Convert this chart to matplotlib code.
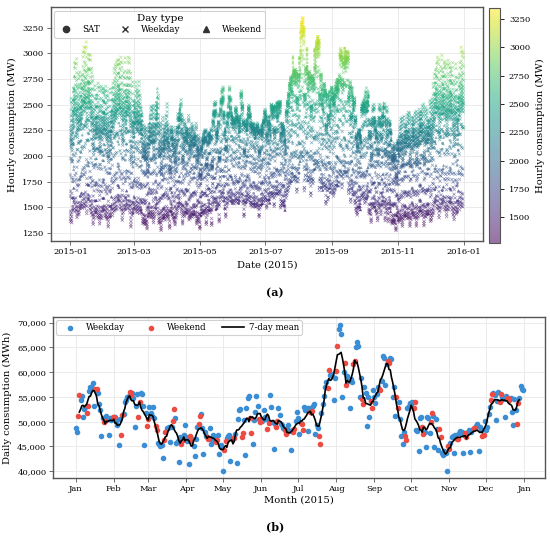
import numpy as np
import pandas as pd
import matplotlib
matplotlib.use('Agg')
import matplotlib.pyplot as plt
import matplotlib.dates as mdates
from matplotlib.lines import Line2D
from matplotlib.ticker import FuncFormatter, MultipleLocator

plt.rcParams['font.family'] = 'DejaVu Serif'

# daily consumption (thousand MWh), one list per month
jan = [48.8, 48.0, 51.1, 55.3, 54.3, 55.1, 51.0, 52.6, 53.0, 51.8, 53.2, 56.2, 57.0, 56.8, 57.8, 53.2,
       56.6, 56.5, 55.7, 53.6, 52.3, 47.1, 50.8, 49.9, 50.1, 51.2, 50.6, 47.3, 50.7, 50.4, 50.9]
feb = [50.9, 51.0, 50.2, 49.4, 45.2, 50.6, 47.4, 51.4, 51.5, 53.9, 54.4, 54.9, 55.2, 56.0, 55.4, 55.7,
       54.8, 49.0, 53.2, 55.6, 51.0, 53.9, 55.7, 55.5, 53.1, 45.2, 51.7, 49.1]
mar = [50.5, 52.9, 51.7, 51.2, 53.0, 50.7, 49.2, 48.3, 45.7, 45.5, 45.0, 45.3, 42.7, 46.3, 47.9, 48.8,
       48.7, 49.0, 45.9, 48.9, 50.1, 52.5, 50.7, 45.7, 46.1, 41.9, 47.0, 45.5, 46.2, 47.3, 49.3]
apr = [47.0, 46.0, 41.5, 47.2, 46.1, 46.6, 45.0, 43.1, 46.5, 49.0, 49.5, 51.2, 51.5, 48.7, 43.5, 47.9,
       47.2, 47.0, 46.6, 48.7, 45.5, 46.3, 47.3, 46.8, 45.9, 46.2, 47.3, 43.5, 45.2, 44.6]
may = [40.1, 44.3, 46.0, 46.7, 47.2, 47.3, 42.1, 46.5, 46.8, 46.8, 47.5, 41.7, 50.5, 52.3, 52.5, 47.0,
       47.7, 50.3, 43.3, 52.8, 54.7, 55.2, 50.7, 47.7, 45.5, 50.3, 52.0, 55.2, 53.2, 50.5, 49.9]
jun = [50.3, 50.1, 52.4, 51.0, 50.5, 48.6, 49.8, 55.4, 53.0, 50.0, 44.5, 49.5, 49.0, 50.2, 52.7, 51.3,
       49.5, 49.3, 48.7, 48.3, 47.5, 48.6, 49.3, 48.2, 44.3, 48.3, 48.0, 48.6, 50.2, 51.9]
jul = [50.8, 47.5, 49.8, 49.5, 48.3, 53.0, 52.3, 52.7, 48.2, 52.7, 52.0, 52.2, 53.2, 53.6, 47.6, 49.4,
       48.8, 47.1, 45.4, 51.8, 53.6, 55.1, 57.0, 58.1, 56.9, 60.5, 59.5, 59.7, 59.3, 54.3, 58.8]
aug = [60.3, 65.2, 68.7, 69.6, 67.7, 54.9, 60.0, 61.9, 57.5, 59.3, 58.3, 52.7, 58.6, 58.0, 61.7, 62.2,
       65.0, 66.0, 65.2, 55.0, 58.8, 54.5, 53.5, 57.0, 55.7, 49.2, 55.0, 51.0, 54.1, 52.7, 56.3]
sep = [55.0, 53.8, 55.5, 57.0, 56.5, 56.3, 58.3, 63.3, 62.8, 57.5, 61.7, 62.3, 61.8, 62.8, 62.7, 55.0,
       57.0, 51.1, 55.0, 52.7, 54.0, 50.5, 47.2, 45.5, 48.0, 47.2, 46.3, 52.7, 53.2, 53.7]
oct_ = [53.2, 53.9, 52.7, 53.9, 48.3, 48.1, 44.0, 50.7, 51.0, 49.0, 47.5, 48.0, 44.8, 51.0, 50.8, 47.7,
        50.0, 51.8, 51.1, 44.8, 50.5, 48.5, 44.3, 48.5, 47.0, 43.7, 43.3, 44.0, 43.6, 40.1, 45.0]
nov = [44.5, 45.7, 47.0, 47.2, 43.7, 47.4, 46.5, 46.6, 47.7, 48.1, 48.0, 43.7, 47.3, 47.7, 47.0, 48.0,
       48.3, 43.8, 47.9, 48.6, 48.7, 48.8, 49.2, 49.5, 44.0, 48.9, 48.5, 47.2, 47.3, 50.1]
dec = [48.3, 49.0, 51.5, 53.0, 54.3, 55.5, 55.7, 55.3, 50.3, 54.2, 56.0, 54.0, 55.5, 55.0, 54.6, 51.0,
       55.2, 54.7, 54.7, 54.3, 54.8, 51.9, 49.3, 54.6, 52.4, 49.6, 53.8, 54.8, 57.3, 56.7, 56.4]

# typical hourly shape of a day (relative to the daily mean)
wd_winter = [0.75, 0.58, 0.46, 0.40, 0.38, 0.43, 0.62, 0.88, 1.02, 1.10, 1.14, 1.12,
             1.07, 1.03, 0.99, 0.97, 1.05, 1.22, 1.36, 1.33, 1.27, 1.18, 1.03, 0.88]
wd_summer = [0.80, 0.68, 0.59, 0.54, 0.52, 0.54, 0.66, 0.84, 0.98, 1.08, 1.12, 1.14,
             1.15, 1.16, 1.16, 1.15, 1.13, 1.16, 1.12, 1.10, 1.14, 1.09, 1.01, 0.90]
we_winter = [0.80, 0.64, 0.52, 0.46, 0.43, 0.44, 0.52, 0.66, 0.84, 1.00, 1.10, 1.15,
             1.16, 1.12, 1.06, 1.03, 1.08, 1.24, 1.33, 1.30, 1.24, 1.16, 1.04, 0.92]
we_summer = [0.84, 0.73, 0.64, 0.58, 0.55, 0.55, 0.60, 0.72, 0.88, 1.02, 1.12, 1.18,
             1.21, 1.22, 1.21, 1.19, 1.16, 1.14, 1.11, 1.10, 1.12, 1.08, 1.00, 0.91]
winter_weight = [1.0, 0.95, 0.75, 0.5, 0.3, 0.1, 0.0, 0.0, 0.15, 0.45, 0.7, 0.95]
base_load = 900  # MW

daily = np.array(jan + feb + mar + apr + may + jun + jul + aug + sep + oct_ + nov + dec) * 1000
days = pd.date_range('2015-01-01', '2015-12-31', freq='D')
weekend = days.dayofweek >= 5
mean7 = pd.Series(daily).rolling(7, center=True).mean()


def norm_shape(a):
    a = np.array(a)
    return a / a.mean()


w = np.array(winter_weight)[days.month - 1][:, None]
shape_wd = w * norm_shape(wd_winter) + (1 - w) * norm_shape(wd_summer)
shape_we = w * norm_shape(we_winter) + (1 - w) * norm_shape(we_summer)
shape = np.where(weekend[:, None], shape_we, shape_wd)
hourly = (base_load + (daily[:, None] / 24 - base_load) * shape).ravel()
hours = pd.date_range('2015-01-01', periods=len(hourly), freq='h')
dow = np.repeat(days.dayofweek, 24)

fig = plt.figure(figsize=(5.5, 5.38), dpi=100)
ax1 = fig.add_axes([0.0922, 0.552, 0.7865, 0.4344])
cax = fig.add_axes([0.889, 0.549, 0.020, 0.4357])
ax2 = fig.add_axes([0.0969, 0.1115, 0.8946, 0.2987])

spine_col = '#555555'
for ax in (ax1, ax2):
    ax.set_axisbelow(True)
    ax.grid(True, color='#e8e8e8', lw=0.6)
    for s in ax.spines.values():
        s.set_color(spine_col)
        s.set_linewidth(1.0)
    ax.tick_params(labelsize=6, length=3, width=0.6, color=spine_col, pad=2)

# ---- (a) hourly scatter
norm = plt.Normalize(hourly.min(), hourly.max())
m = dow < 5
sc = ax1.scatter(hours[m], hourly[m], c=hourly[m], cmap='viridis', norm=norm,
                 marker='x', s=5, linewidths=0.5, alpha=0.55)
m = dow == 5
ax1.scatter(hours[m], hourly[m], c=hourly[m], cmap='viridis', norm=norm,
            marker='o', s=4, linewidths=0, alpha=0.55)
m = dow == 6
ax1.scatter(hours[m], hourly[m], c=hourly[m], cmap='viridis', norm=norm,
            marker='^', s=5, linewidths=0, alpha=0.55)
ax1.xaxis.set_major_locator(mdates.MonthLocator(bymonth=[1, 3, 5, 7, 9, 11]))
ax1.xaxis.set_major_formatter(mdates.DateFormatter('%Y-%m'))
ax1.yaxis.set_major_locator(MultipleLocator(250))
ax1.set_xlabel('Date (2015)', fontsize=7.2, labelpad=3)
ax1.set_ylabel('Hourly consumption (MW)', fontsize=7.2)

cb = fig.colorbar(sc, cax=cax)
cb.set_label('Hourly consumption (MW)', fontsize=7.2)
cb.locator = MultipleLocator(250)
cb.update_ticks()
cb.ax.tick_params(labelsize=6, length=3, width=0.6)
cb.outline.set_edgecolor(spine_col)

hd = [Line2D([], [], ls='', marker='o', color='#333333', ms=4.5),
      Line2D([], [], ls='', marker='x', color='#333333', ms=5, mew=1),
      Line2D([], [], ls='', marker='^', color='#333333', ms=5)]
leg = ax1.legend(hd, ['SAT', 'Weekday', 'Weekend'], title='Day type', ncol=3, loc='upper left',
                 fontsize=6.3, title_fontsize=7.5, frameon=True, edgecolor='#cccccc',
                 framealpha=0.9, borderpad=0.4, handlelength=2.0, handletextpad=0.8,
                 columnspacing=1.9, labelspacing=0.2, borderaxespad=0.4)
leg.get_frame().set_linewidth(0.8)

# ---- (b) daily scatter + 7-day mean
ax2.scatter(days[~weekend], daily[~weekend], s=9, color='#3b8ed4', label='Weekday', zorder=3)
ax2.scatter(days[weekend], daily[weekend], s=9, color='#ec4c43', label='Weekend', zorder=3)
ax2.plot(days, mean7, color='black', lw=1.2, label='7-day mean', zorder=4)
ax2.xaxis.set_major_locator(mdates.MonthLocator())
ax2.xaxis.set_major_formatter(mdates.DateFormatter('%b'))
ax2.yaxis.set_major_locator(MultipleLocator(5000))
ax2.yaxis.set_major_formatter(FuncFormatter(lambda v, p: f'{v:,.0f}'))
ax2.set_xlabel('Month (2015)', fontsize=7.2, labelpad=2)
ax2.set_ylabel('Daily consumption (MWh)', fontsize=7.2)
leg2 = ax2.legend(ncol=3, loc='upper left', fontsize=6.2, frameon=True, edgecolor='#cccccc',
                  framealpha=0.9, borderpad=0.35, handletextpad=0.5, columnspacing=1.8,
                  handlelength=2.6, borderaxespad=0.3)
leg2.get_frame().set_linewidth(0.8)

fig.text(0.5, 1 - 293 / 538, '(a)', ha='center', va='center', fontsize=8, fontweight='bold')
fig.text(0.5, 1 - 527 / 538, '(b)', ha='center', va='center', fontsize=8, fontweight='bold')

fig.savefig('out.png', dpi=100)
